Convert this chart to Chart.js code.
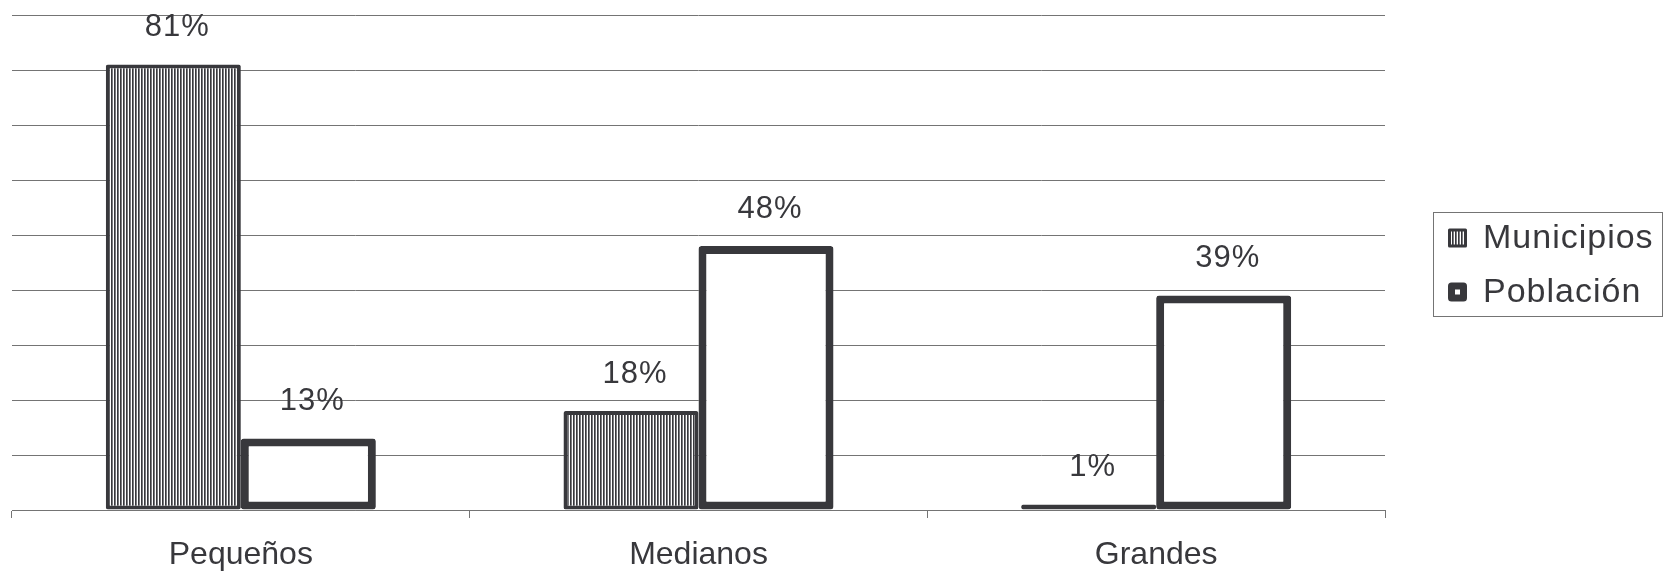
<!DOCTYPE html>
<html>
<head>
<meta charset="utf-8">
<script src="https://cdn.jsdelivr.net/npm/chart.js@4.4.0/dist/chart.umd.min.js"></script>
<style>
  html, body { margin: 0; padding: 0; background: #fff; }
  #wrap { width: 1664px; height: 571px; position: relative; }
</style>
</head>
<body>
<div id="wrap"><canvas id="chart"></canvas></div>
<script>
const categories = ['Pequeños', 'Medianos', 'Grandes']
const municipios = [81, 18, 1]
const poblacion = [13, 48, 39]
const seriesNames = ['Municipios', 'Población']
const yMax = 90
const yStep = 10

const FONT = '"Liberation Sans", Arial, Helvetica, sans-serif'
const DARK = '#38383c'
const GRID = '#747474'

// vertical stripe fill for the Municipios bars
function stripePattern() {
  const c = document.createElement('canvas')
  c.width = 3
  c.height = 3
  const g = c.getContext('2d')
  g.fillStyle = '#ffffff'
  g.fillRect(0, 0, 3, 3)
  g.fillStyle = DARK
  g.fillRect(0, 0, 1, 3)
  g.fillStyle = '#7a7a7e'
  g.fillRect(1, 0, 1, 3)
  return g.createPattern(c, 'repeat')
}

const ctx = document.getElementById('chart').getContext('2d')
const stripes = stripePattern()

// labels above each bar
const valueLabels = {
  id: 'valueLabels',
  afterDatasetsDraw(chart) {
    const c = chart.ctx
    c.save()
    c.font = '31px ' + FONT
    c.fillStyle = DARK
    c.textAlign = 'center'
    c.textBaseline = 'middle'
    if ('letterSpacing' in c) c.letterSpacing = '1px'
    chart.data.datasets.forEach((ds, di) => {
      chart.getDatasetMeta(di).data.forEach((bar, i) => {
        c.fillText(ds.data[i] + '%', bar.x + 4, bar.y - 37)
      })
    })
    c.restore()
  }
}

// boxed legend on the right
const boxLegend = {
  id: 'boxLegend',
  afterDraw(chart) {
    const c = chart.ctx
    c.save()
    c.strokeStyle = GRID
    c.lineWidth = 1
    c.strokeRect(1433.5, 212.5, 229, 104)
    const rows = [238, 292]
    const markerWidths = [3, 7]
    chart.data.datasets.forEach((ds, i) => {
      const y = rows[i]
      const w = markerWidths[i]
      const size = 19 - w
      const x0 = 1448 + w / 2
      c.lineJoin = 'round'
      c.fillStyle = ds.backgroundColor
      c.fillRect(x0, y - size / 2, size, size)
      c.strokeStyle = ds.borderColor
      c.lineWidth = w
      c.strokeRect(x0, y - size / 2, size, size)
      c.fillStyle = DARK
      c.font = '34px ' + FONT
      c.textAlign = 'left'
      c.textBaseline = 'middle'
      if ('letterSpacing' in c) c.letterSpacing = '1px'
      c.fillText(ds.label, 1483, y + 1)
    })
    c.restore()
  }
}

new Chart(ctx, {
  type: 'bar',
  data: {
    labels: categories,
    datasets: [
      {
        label: seriesNames[0],
        data: municipios,
        backgroundColor: stripes,
        borderColor: DARK,
        borderWidth: 4,
        borderRadius: 2,
        borderSkipped: false,
      },
      {
        label: seriesNames[1],
        data: poblacion,
        backgroundColor: '#ffffff',
        borderColor: DARK,
        borderWidth: 8,
        borderRadius: 3,
        borderSkipped: false,
      }
    ]
  },
  options: {
    responsive: true,
    maintainAspectRatio: false,
    animation: false,
    devicePixelRatio: 1,
    categoryPercentage: 0.59,
    barPercentage: 1.0,
    layout: {
      padding: { left: 12, right: 279, top: 15, bottom: 0 }
    },
    plugins: {
      legend: { display: false },
      tooltip: { enabled: false }
    },
    scales: {
      x: {
        grid: {
          drawOnChartArea: false,
          drawTicks: true,
          tickLength: 8,
          color: GRID,
          offset: true,
        },
        border: { display: true, color: GRID, width: 1 },
        ticks: {
          color: DARK,
          font: { family: FONT, size: 32 },
          padding: 18,
        },
        afterFit(scale) {
          scale.height = 61
        }
      },
      y: {
        min: 0,
        max: yMax,
        grid: {
          color: GRID,
          lineWidth: 1,
          drawTicks: false,
        },
        border: { display: false },
        ticks: { display: false, stepSize: yStep }
      }
    }
  },
  plugins: [valueLabels, boxLegend]
})
</script>
</body>
</html>
